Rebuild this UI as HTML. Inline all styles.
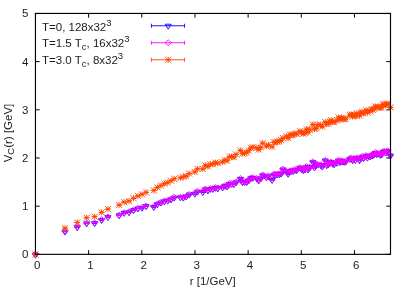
<!DOCTYPE html>
<html><head><meta charset="utf-8"><title>plot</title>
<style>
html,body{margin:0;padding:0;background:#fff;width:411px;height:288px;overflow:hidden}
body{font-family:"Liberation Sans",sans-serif;position:relative}
svg text{font-family:"Liberation Sans",sans-serif}
</style></head><body>
<svg width="411" height="288" viewBox="0 0 411 288" style="position:absolute;left:0;top:0;will-change:transform;opacity:0.999"><rect x="0" y="0" width="411" height="288" fill="#ffffff"/><path d="M35.45 254.35v-4.2M35.45 13.45v4.2M88.62 254.35v-4.2M88.62 13.45v4.2M141.79 254.35v-4.2M141.79 13.45v4.2M194.96 254.35v-4.2M194.96 13.45v4.2M248.13 254.35v-4.2M248.13 13.45v4.2M301.30 254.35v-4.2M301.30 13.45v4.2M354.47 254.35v-4.2M354.47 13.45v4.2M35.45 254.35h4.2M390.5 254.35h-4.2M35.45 206.17h4.2M390.5 206.17h-4.2M35.45 157.99h4.2M390.5 157.99h-4.2M35.45 109.81h4.2M390.5 109.81h-4.2M35.45 61.63h4.2M390.5 61.63h-4.2M35.45 13.45h4.2M390.5 13.45h-4.2" stroke="#000" stroke-width="1.0" fill="none"/><path d="M35.45 254.52V255.02M33.45 254.52h4.00M33.45 255.02h4.00M32.40 253.24L38.50 253.24L35.45 258.19ZM34.95 254.77h1.0M65.03 231.38V231.89M63.03 231.38h4.00M63.03 231.89h4.00M61.98 230.11L68.08 230.11L65.03 235.05ZM64.53 231.63h1.0M77.28 227.00V227.51M75.28 227.00h4.00M75.28 227.51h4.00M74.23 225.73L80.33 225.73L77.28 230.67ZM76.78 227.25h1.0M86.68 223.16V223.68M84.68 223.16h4.00M84.68 223.68h4.00M83.63 221.90L89.73 221.90L86.68 226.84ZM86.18 223.42h1.0M94.61 222.92V223.44M92.61 222.92h4.00M92.61 223.44h4.00M91.56 221.65L97.66 221.65L94.61 226.59ZM94.11 223.18h1.0M101.59 219.82V220.35M99.59 219.82h4.00M99.59 220.35h4.00M98.54 218.56L104.64 218.56L101.59 223.50ZM101.09 220.09h1.0M107.91 216.89V217.43M105.91 216.89h4.00M105.91 217.43h4.00M104.86 215.64L110.96 215.64L107.91 220.58ZM107.41 217.16h1.0M119.11 215.05V215.60M117.11 215.05h4.00M117.11 215.60h4.00M116.06 213.80L122.16 213.80L119.11 218.74ZM118.61 215.32h1.0M124.19 212.64V213.19M122.19 212.64h4.00M122.19 213.19h4.00M121.14 211.39L127.24 211.39L124.19 216.33ZM123.69 212.91h1.0M128.99 212.01V212.57M126.99 212.01h4.00M126.99 212.57h4.00M125.94 210.76L132.04 210.76L128.99 215.70ZM128.49 212.29h1.0M133.56 209.92V210.48M131.56 209.92h4.00M131.56 210.48h4.00M130.51 208.67L136.61 208.67L133.56 213.62ZM133.06 210.20h1.0M137.92 208.23V208.80M135.92 208.23h4.00M135.92 208.80h4.00M134.87 206.99L140.97 206.99L137.92 211.93ZM137.42 208.51h1.0M142.10 207.55V208.13M140.10 207.55h4.00M140.10 208.13h4.00M139.05 206.31L145.15 206.31L142.10 211.25ZM141.60 207.84h1.0M146.13 205.90V206.48M144.13 205.90h4.00M144.13 206.48h4.00M143.08 204.67L149.18 204.67L146.13 209.61ZM145.63 206.19h1.0M153.77 206.71V207.30M151.77 206.71h4.00M151.77 207.30h4.00M150.72 205.48L156.82 205.48L153.77 210.42ZM153.27 207.01h1.0M157.41 203.95V204.56M155.41 203.95h4.00M155.41 204.56h4.00M154.36 202.73L160.46 202.73L157.41 207.67ZM156.91 204.25h1.0M160.95 202.30V202.90M158.95 202.30h4.00M158.95 202.90h4.00M157.90 201.08L164.00 201.08L160.95 206.02ZM160.45 202.60h1.0M164.39 201.08V201.69M162.39 201.08h4.00M162.39 201.69h4.00M161.34 199.86L167.44 199.86L164.39 204.80ZM163.89 201.39h1.0M167.74 200.42V201.04M165.74 200.42h4.00M165.74 201.04h4.00M164.69 199.20L170.79 199.20L167.74 204.15ZM167.24 200.73h1.0M171.00 199.09V199.72M169.00 199.09h4.00M169.00 199.72h4.00M167.95 197.88L174.05 197.88L171.00 202.82ZM170.50 199.41h1.0M174.19 197.42V198.05M172.19 197.42h4.00M172.19 198.05h4.00M171.14 196.21L177.24 196.21L174.19 201.15ZM173.69 197.74h1.0M180.36 197.13V197.77M178.36 197.13h4.00M178.36 197.77h4.00M177.31 195.92L183.41 195.92L180.36 200.86ZM179.86 197.45h1.0M183.35 197.34V197.99M181.35 197.34h4.00M181.35 197.99h4.00M180.30 196.14L186.40 196.14L183.35 201.08ZM182.85 197.67h1.0M186.28 196.25V196.91M184.28 196.25h4.00M184.28 196.91h4.00M183.23 195.05L189.33 195.05L186.28 199.99ZM185.78 196.58h1.0M189.15 194.26V194.93M187.15 194.26h4.00M187.15 194.93h4.00M186.10 193.07L192.20 193.07L189.15 198.01ZM188.65 194.60h1.0M194.74 193.47V194.15M192.74 193.47h4.00M192.74 194.15h4.00M191.69 192.29L197.79 192.29L194.74 197.23ZM194.24 193.81h1.0M197.47 191.41V192.09M195.47 191.41h4.00M195.47 192.09h4.00M194.42 190.22L200.52 190.22L197.47 195.16ZM196.97 191.75h1.0M202.78 191.74V192.44M200.78 191.74h4.00M200.78 192.44h4.00M199.73 190.57L205.83 190.57L202.78 195.51ZM202.28 192.09h1.0M205.37 189.07V189.77M203.37 189.07h4.00M203.37 189.77h4.00M202.32 187.89L208.42 187.89L205.37 192.84ZM204.87 189.42h1.0M207.93 190.16V190.87M205.93 190.16h4.00M205.93 190.87h4.00M204.88 188.99L210.98 188.99L207.93 193.93ZM207.43 190.51h1.0M210.45 188.56V189.27M208.45 188.56h4.00M208.45 189.27h4.00M207.40 187.39L213.50 187.39L210.45 192.33ZM209.95 188.92h1.0M212.93 188.59V189.31M210.93 188.59h4.00M210.93 189.31h4.00M209.88 187.42L215.98 187.42L212.93 192.36ZM212.43 188.95h1.0M215.38 187.49V188.22M213.38 187.49h4.00M213.38 188.22h4.00M212.33 186.33L218.43 186.33L215.38 191.27ZM214.88 187.86h1.0M217.79 188.00V188.73M215.79 188.00h4.00M215.79 188.73h4.00M214.74 186.84L220.84 186.84L217.79 191.78ZM217.29 188.37h1.0M222.53 187.16V187.90M220.53 187.16h4.00M220.53 187.90h4.00M219.48 186.01L225.58 186.01L222.53 190.95ZM222.03 187.53h1.0M224.85 185.52V186.26M222.85 185.52h4.00M222.85 186.26h4.00M221.80 184.36L227.90 184.36L224.85 189.30ZM224.35 185.89h1.0M227.15 186.19V186.95M225.15 186.19h4.00M225.15 186.95h4.00M224.10 185.05L230.20 185.05L227.15 189.99ZM226.65 186.57h1.0M229.42 183.52V184.28M227.42 183.52h4.00M227.42 184.28h4.00M226.37 182.37L232.47 182.37L229.42 187.32ZM228.92 183.90h1.0M231.66 183.51V184.27M229.66 183.51h4.00M229.66 184.27h4.00M228.61 182.36L234.71 182.36L231.66 187.31ZM231.16 183.89h1.0M233.88 183.75V184.52M231.88 183.75h4.00M231.88 184.52h4.00M230.83 182.61L236.93 182.61L233.88 187.55ZM233.38 184.13h1.0M236.07 181.98V182.75M234.07 181.98h4.00M234.07 182.75h4.00M233.02 180.84L239.12 180.84L236.07 185.78ZM235.57 182.36h1.0M240.39 178.54V179.32M238.39 178.54h4.00M238.39 179.32h4.00M237.34 177.40L243.44 177.40L240.39 182.35ZM239.89 178.93h1.0M242.51 181.85V182.65M240.51 181.85h4.00M240.51 182.65h4.00M239.46 180.72L245.56 180.72L242.51 185.66ZM242.01 182.25h1.0M244.61 181.58V182.38M242.61 181.58h4.00M242.61 182.38h4.00M241.56 180.45L247.66 180.45L244.61 185.40ZM244.11 181.98h1.0M246.69 181.60V182.40M244.69 181.60h4.00M244.69 182.40h4.00M243.64 180.48L249.74 180.48L246.69 185.42ZM246.19 182.00h1.0M248.75 180.02V180.83M246.75 180.02h4.00M246.75 180.83h4.00M245.70 178.90L251.80 178.90L248.75 183.84ZM248.25 180.42h1.0M250.80 177.90V178.72M248.80 177.90h4.00M248.80 178.72h4.00M247.75 176.78L253.85 176.78L250.80 181.72ZM250.30 178.31h1.0M252.82 177.43V178.26M250.82 177.43h4.00M250.82 178.26h4.00M249.77 176.32L255.87 176.32L252.82 181.26ZM252.32 177.84h1.0M256.81 178.24V179.07M254.81 178.24h4.00M254.81 179.07h4.00M253.76 177.13L259.86 177.13L256.81 182.07ZM256.31 178.65h1.0M258.77 180.04V180.88M256.77 180.04h4.00M256.77 180.88h4.00M255.72 178.93L261.82 178.93L258.77 183.87ZM258.27 180.46h1.0M260.72 178.15V179.00M258.72 178.15h4.00M258.72 179.00h4.00M257.67 177.05L263.77 177.05L260.72 181.99ZM260.22 178.58h1.0M262.66 174.94V175.80M260.66 174.94h4.00M260.66 175.80h4.00M259.61 173.85L265.71 173.85L262.66 178.79ZM262.16 175.37h1.0M266.48 176.95V177.82M264.48 176.95h4.00M264.48 177.82h4.00M263.43 175.86L269.53 175.86L266.48 180.80ZM265.98 177.38h1.0M268.36 175.84V176.71M266.36 175.84h4.00M266.36 176.71h4.00M265.31 174.75L271.41 174.75L268.36 179.69ZM267.86 176.27h1.0M272.09 179.59V180.47M270.09 179.59h4.00M270.09 180.47h4.00M269.04 178.51L275.14 178.51L272.09 183.45ZM271.59 180.03h1.0M273.93 174.21V175.10M271.93 174.21h4.00M271.93 175.10h4.00M270.88 173.13L276.98 173.13L273.93 178.07ZM273.43 174.66h1.0M275.76 174.27V175.17M273.76 174.27h4.00M273.76 175.17h4.00M272.71 173.20L278.81 173.20L275.76 178.14ZM275.26 174.72h1.0M277.57 173.91V174.81M275.57 173.91h4.00M275.57 174.81h4.00M274.52 172.84L280.62 172.84L277.57 177.78ZM277.07 174.36h1.0M279.37 173.84V174.75M277.37 173.84h4.00M277.37 174.75h4.00M276.32 172.77L282.42 172.77L279.37 177.71ZM278.87 174.29h1.0M281.16 173.28V174.20M279.16 173.28h4.00M279.16 174.20h4.00M278.11 172.22L284.21 172.22L281.16 177.16ZM280.66 173.74h1.0M282.93 169.07V169.99M280.93 169.07h4.00M280.93 169.99h4.00M279.88 168.01L285.98 168.01L282.93 172.95ZM282.43 169.53h1.0M286.44 171.16V172.09M284.44 171.16h4.00M284.44 172.09h4.00M283.39 170.10L289.49 170.10L286.44 175.04ZM285.94 171.63h1.0M288.18 173.36V174.30M286.18 173.36h4.00M286.18 174.30h4.00M285.13 172.30L291.23 172.30L288.18 177.24ZM287.68 173.83h1.0M289.91 170.70V171.65M287.91 170.70h4.00M287.91 171.65h4.00M286.86 169.65L292.96 169.65L289.91 174.59ZM289.41 171.17h1.0M291.62 170.48V171.43M289.62 170.48h4.00M289.62 171.43h4.00M288.57 169.43L294.67 169.43L291.62 174.37ZM291.12 170.95h1.0M293.32 170.49V171.45M291.32 170.49h4.00M291.32 171.45h4.00M290.27 169.44L296.37 169.44L293.32 174.39ZM292.82 170.97h1.0M295.01 169.47V170.43M293.01 169.47h4.00M293.01 170.43h4.00M291.96 168.42L298.06 168.42L295.01 173.36ZM294.51 169.95h1.0M296.69 169.74V170.71M294.69 169.74h4.00M294.69 170.71h4.00M293.64 168.70L299.74 168.70L296.69 173.64ZM296.19 170.23h1.0M300.02 167.24V168.22M298.02 167.24h4.00M298.02 168.22h4.00M296.97 166.21L303.07 166.21L300.02 171.15ZM299.52 167.73h1.0M301.67 168.61V169.59M299.67 168.61h4.00M299.67 169.59h4.00M298.62 167.58L304.72 167.58L301.67 172.52ZM301.17 169.10h1.0M303.31 169.76V170.75M301.31 169.76h4.00M301.31 170.75h4.00M300.26 168.73L306.36 168.73L303.31 173.67ZM302.81 170.25h1.0M304.94 169.07V170.07M302.94 169.07h4.00M302.94 170.07h4.00M301.89 168.04L307.99 168.04L304.94 172.98ZM304.44 169.57h1.0M306.56 166.43V167.43M304.56 166.43h4.00M304.56 167.43h4.00M303.51 165.41L309.61 165.41L306.56 170.35ZM306.06 166.93h1.0M308.16 169.05V170.06M306.16 169.05h4.00M306.16 170.06h4.00M305.11 168.03L311.21 168.03L308.16 172.97ZM307.66 169.56h1.0M309.76 166.76V167.78M307.76 166.76h4.00M307.76 167.78h4.00M306.71 165.74L312.81 165.74L309.76 170.69ZM309.26 167.27h1.0M312.93 161.73V162.75M310.93 161.73h4.00M310.93 162.75h4.00M309.88 160.71L315.98 160.71L312.93 165.66ZM312.43 162.24h1.0M314.51 167.08V168.11M312.51 167.08h4.00M312.51 168.11h4.00M311.46 166.07L317.56 166.07L314.51 171.01ZM314.01 167.59h1.0M316.07 164.21V165.25M314.07 164.21h4.00M314.07 165.25h4.00M313.02 163.20L319.12 163.20L316.07 168.14ZM315.57 164.73h1.0M317.63 164.15V165.20M315.63 164.15h4.00M315.63 165.20h4.00M314.58 163.15L320.68 163.15L317.63 168.09ZM317.13 164.67h1.0M320.71 164.63V165.69M318.71 164.63h4.00M318.71 165.69h4.00M317.66 163.63L323.76 163.63L320.71 168.57ZM320.21 165.16h1.0M322.24 166.02V167.09M320.24 166.02h4.00M320.24 167.09h4.00M319.19 165.03L325.29 165.03L322.24 169.97ZM321.74 166.55h1.0M325.27 159.98V161.05M323.27 159.98h4.00M323.27 161.05h4.00M322.22 158.99L328.32 158.99L325.27 163.93ZM324.77 160.52h1.0M326.78 164.61V165.69M324.78 164.61h4.00M324.78 165.69h4.00M323.73 163.63L329.83 163.63L326.78 168.57ZM326.28 165.15h1.0M328.28 163.95V165.04M326.28 163.95h4.00M326.28 165.04h4.00M325.23 162.97L331.33 162.97L328.28 167.91ZM327.78 164.50h1.0M329.77 162.76V163.86M327.77 162.76h4.00M327.77 163.86h4.00M326.72 161.78L332.82 161.78L329.77 166.73ZM329.27 163.31h1.0M331.25 161.55V162.65M329.25 161.55h4.00M329.25 162.65h4.00M328.20 160.57L334.30 160.57L331.25 165.51ZM330.75 162.10h1.0M332.73 163.30V164.40M330.73 163.30h4.00M330.73 164.40h4.00M329.68 162.33L335.78 162.33L332.73 167.27ZM332.23 163.85h1.0M334.19 163.70V164.81M332.19 163.70h4.00M332.19 164.81h4.00M331.14 162.73L337.24 162.73L334.19 167.67ZM333.69 164.25h1.0M337.11 162.37V163.49M335.11 162.37h4.00M335.11 163.49h4.00M334.06 161.41L340.16 161.41L337.11 166.35ZM336.61 162.93h1.0M338.55 159.97V161.10M336.55 159.97h4.00M336.55 161.10h4.00M335.50 159.01L341.60 159.01L338.55 163.95ZM338.05 160.54h1.0M339.99 161.56V162.69M337.99 161.56h4.00M337.99 162.69h4.00M336.94 160.60L343.04 160.60L339.99 165.54ZM339.49 162.13h1.0M341.43 160.49V161.64M339.43 160.49h4.00M339.43 161.64h4.00M338.38 159.54L344.48 159.54L341.43 164.48ZM340.93 161.06h1.0M342.85 161.02V162.17M340.85 161.02h4.00M340.85 162.17h4.00M339.80 160.07L345.90 160.07L342.85 165.01ZM342.35 161.60h1.0M344.27 161.26V162.42M342.27 161.26h4.00M342.27 162.42h4.00M341.22 160.32L347.32 160.32L344.27 165.26ZM343.77 161.84h1.0M345.69 161.11V162.27M343.69 161.11h4.00M343.69 162.27h4.00M342.64 160.17L348.74 160.17L345.69 165.11ZM345.19 161.69h1.0M349.89 158.34V159.52M347.89 158.34h4.00M347.89 159.52h4.00M346.84 157.41L352.94 157.41L349.89 162.35ZM349.39 158.93h1.0M351.28 157.93V159.11M349.28 157.93h4.00M349.28 159.11h4.00M348.23 156.99L354.33 156.99L351.28 161.93ZM350.78 158.52h1.0M352.66 159.66V160.85M350.66 159.66h4.00M350.66 160.85h4.00M349.61 158.73L355.71 158.73L352.66 163.67ZM352.16 160.26h1.0M354.04 158.29V159.49M352.04 158.29h4.00M352.04 159.49h4.00M350.99 157.37L357.09 157.37L354.04 162.31ZM353.54 158.89h1.0M355.41 159.36V160.56M353.41 159.36h4.00M353.41 160.56h4.00M352.36 158.43L358.46 158.43L355.41 163.38ZM354.91 159.96h1.0M356.77 157.54V158.74M354.77 157.54h4.00M354.77 158.74h4.00M353.72 156.62L359.82 156.62L356.77 161.56ZM356.27 158.14h1.0M359.48 159.62V160.84M357.48 159.62h4.00M357.48 160.84h4.00M356.43 158.71L362.53 158.71L359.48 163.65ZM358.98 160.23h1.0M360.83 157.51V158.73M358.83 157.51h4.00M358.83 158.73h4.00M357.78 156.59L363.88 156.59L360.83 161.53ZM360.33 158.12h1.0M362.17 156.22V157.46M360.17 156.22h4.00M360.17 157.46h4.00M359.12 155.32L365.22 155.32L362.17 160.26ZM361.67 156.84h1.0M363.51 157.57V158.81M361.51 157.57h4.00M361.51 158.81h4.00M360.46 156.66L366.56 156.66L363.51 161.60ZM363.01 158.19h1.0M366.16 155.13V156.38M364.16 155.13h4.00M364.16 156.38h4.00M363.11 154.23L369.21 154.23L366.16 159.17ZM365.66 155.75h1.0M367.48 157.03V158.28M365.48 157.03h4.00M365.48 158.28h4.00M364.43 156.13L370.53 156.13L367.48 161.07ZM366.98 157.65h1.0M370.11 155.83V157.10M368.11 155.83h4.00M368.11 157.10h4.00M367.06 154.94L373.16 154.94L370.11 159.88ZM369.61 156.47h1.0M371.41 154.96V156.24M369.41 154.96h4.00M369.41 156.24h4.00M368.36 154.08L374.46 154.08L371.41 159.02ZM370.91 155.60h1.0M372.71 154.85V156.13M370.71 154.85h4.00M370.71 156.13h4.00M369.66 153.97L375.76 153.97L372.71 158.91ZM372.21 155.49h1.0M374.01 153.79V155.07M372.01 153.79h4.00M372.01 155.07h4.00M370.96 152.91L377.06 152.91L374.01 157.85ZM373.51 154.43h1.0M375.30 152.34V153.64M373.30 152.34h4.00M373.30 153.64h4.00M372.25 151.46L378.35 151.46L375.30 156.41ZM374.80 152.99h1.0M376.58 153.46V154.76M374.58 153.46h4.00M374.58 154.76h4.00M373.53 152.59L379.63 152.59L376.58 157.53ZM376.08 154.11h1.0M377.86 153.13V154.44M375.86 153.13h4.00M375.86 154.44h4.00M374.81 152.26L380.91 152.26L377.86 157.20ZM377.36 153.78h1.0M380.41 154.27V155.59M378.41 154.27h4.00M378.41 155.59h4.00M377.36 153.40L383.46 153.40L380.41 158.35ZM379.91 154.93h1.0M381.68 153.92V155.24M379.68 153.92h4.00M379.68 155.24h4.00M378.63 153.06L384.73 153.06L381.68 158.00ZM381.18 154.58h1.0M382.94 151.43V152.76M380.94 151.43h4.00M380.94 152.76h4.00M379.89 150.57L385.99 150.57L382.94 155.51ZM382.44 152.09h1.0M384.19 150.88V152.22M382.19 150.88h4.00M382.19 152.22h4.00M381.14 150.03L387.24 150.03L384.19 154.97ZM383.69 151.55h1.0M385.45 152.03V153.37M383.45 152.03h4.00M383.45 153.37h4.00M382.40 151.18L388.50 151.18L385.45 156.12ZM384.95 152.70h1.0M386.69 151.16V152.51M384.69 151.16h4.00M384.69 152.51h4.00M383.64 150.31L389.74 150.31L386.69 155.25ZM386.19 151.83h1.0M387.94 150.51V151.86M385.94 150.51h4.00M385.94 151.86h4.00M384.89 149.66L390.99 149.66L387.94 154.60ZM387.44 151.18h1.0M390.41 154.99V156.35M388.41 154.99h4.00M388.41 156.35h4.00M387.36 154.14L393.46 154.14L390.41 159.09ZM389.91 155.67h1.0" stroke="#0000ff" stroke-width="0.9" fill="none"/><path d="M35.45 254.05V254.55M33.45 254.05h4.00M33.45 254.55h4.00M35.45 251.25L38.50 254.30L35.45 257.35L32.40 254.30ZM34.95 254.30h1.0M65.03 231.05V231.55M63.03 231.05h4.00M63.03 231.55h4.00M65.03 228.25L68.08 231.30L65.03 234.35L61.98 231.30ZM64.53 231.30h1.0M77.28 226.64V227.16M75.28 226.64h4.00M75.28 227.16h4.00M77.28 223.85L80.33 226.90L77.28 229.95L74.23 226.90ZM76.78 226.90h1.0M86.68 222.94V223.46M84.68 222.94h4.00M84.68 223.46h4.00M86.68 220.15L89.73 223.20L86.68 226.25L83.63 223.20ZM86.18 223.20h1.0M94.61 222.54V223.06M92.61 222.54h4.00M92.61 223.06h4.00M94.61 219.75L97.66 222.80L94.61 225.85L91.56 222.80ZM94.11 222.80h1.0M101.59 219.34V219.86M99.59 219.34h4.00M99.59 219.86h4.00M101.59 216.55L104.64 219.60L101.59 222.65L98.54 219.60ZM101.09 219.60h1.0M107.91 216.73V217.27M105.91 216.73h4.00M105.91 217.27h4.00M107.91 213.95L110.96 217.00L107.91 220.05L104.86 217.00ZM107.41 217.00h1.0M119.11 214.93V215.47M117.11 214.93h4.00M117.11 215.47h4.00M119.11 212.15L122.16 215.20L119.11 218.25L116.06 215.20ZM118.61 215.20h1.0M124.19 212.52V213.08M122.19 212.52h4.00M122.19 213.08h4.00M124.19 209.75L127.24 212.80L124.19 215.85L121.14 212.80ZM123.69 212.80h1.0M128.99 211.57V212.13M126.99 211.57h4.00M126.99 212.13h4.00M128.99 208.80L132.04 211.85L128.99 214.90L125.94 211.85ZM128.49 211.85h1.0M133.56 209.62V210.18M131.56 209.62h4.00M131.56 210.18h4.00M133.56 206.85L136.61 209.90L133.56 212.95L130.51 209.90ZM133.06 209.90h1.0M137.92 208.01V208.59M135.92 208.01h4.00M135.92 208.59h4.00M137.92 205.25L140.97 208.30L137.92 211.35L134.87 208.30ZM137.42 208.30h1.0M142.10 207.11V207.69M140.10 207.11h4.00M140.10 207.69h4.00M142.10 204.35L145.15 207.40L142.10 210.45L139.05 207.40ZM141.60 207.40h1.0M146.13 205.71V206.29M144.13 205.71h4.00M144.13 206.29h4.00M146.13 202.95L149.18 206.00L146.13 209.05L143.08 206.00ZM145.63 206.00h1.0M153.77 206.30V206.90M151.77 206.30h4.00M151.77 206.90h4.00M153.77 203.55L156.82 206.60L153.77 209.65L150.72 206.60ZM153.27 206.60h1.0M157.41 203.70V204.30M155.41 203.70h4.00M155.41 204.30h4.00M157.41 200.95L160.46 204.00L157.41 207.05L154.36 204.00ZM156.91 204.00h1.0M160.95 202.20V202.80M158.95 202.20h4.00M158.95 202.80h4.00M160.95 199.45L164.00 202.50L160.95 205.55L157.90 202.50ZM160.45 202.50h1.0M164.39 200.79V201.41M162.39 200.79h4.00M162.39 201.41h4.00M164.39 198.05L167.44 201.10L164.39 204.15L161.34 201.10ZM163.89 201.10h1.0M167.74 200.29V200.91M165.74 200.29h4.00M165.74 200.91h4.00M167.74 197.55L170.79 200.60L167.74 203.65L164.69 200.60ZM167.24 200.60h1.0M171.00 198.89V199.51M169.00 198.89h4.00M169.00 199.51h4.00M171.00 196.15L174.05 199.20L171.00 202.25L167.95 199.20ZM170.50 199.20h1.0M174.19 196.93V197.57M172.19 196.93h4.00M172.19 197.57h4.00M174.19 194.20L177.24 197.25L174.19 200.30L171.14 197.25ZM173.69 197.25h1.0M180.36 196.93V197.57M178.36 196.93h4.00M178.36 197.57h4.00M180.36 194.20L183.41 197.25L180.36 200.30L177.31 197.25ZM179.86 197.25h1.0M183.35 196.93V197.57M181.35 196.93h4.00M181.35 197.57h4.00M183.35 194.20L186.40 197.25L183.35 200.30L180.30 197.25ZM182.85 197.25h1.0M186.28 195.97V196.63M184.28 195.97h4.00M184.28 196.63h4.00M186.28 193.25L189.33 196.30L186.28 199.35L183.23 196.30ZM185.78 196.30h1.0M189.15 194.11V194.77M187.15 194.11h4.00M187.15 194.77h4.00M189.15 191.39L192.20 194.44L189.15 197.49L186.10 194.44ZM188.65 194.44h1.0M194.74 193.21V193.88M192.74 193.21h4.00M192.74 193.88h4.00M194.74 190.49L197.79 193.54L194.74 196.59L191.69 193.54ZM194.24 193.54h1.0M197.47 190.92V191.60M195.47 190.92h4.00M195.47 191.60h4.00M197.47 188.21L200.52 191.26L197.47 194.31L194.42 191.26ZM196.97 191.26h1.0M202.78 191.29V191.98M200.78 191.29h4.00M200.78 191.98h4.00M202.78 188.59L205.83 191.64L202.78 194.69L199.73 191.64ZM202.28 191.64h1.0M205.37 188.63V189.33M203.37 188.63h4.00M203.37 189.33h4.00M205.37 185.93L208.42 188.98L205.37 192.03L202.32 188.98ZM204.87 188.98h1.0M207.93 189.67V190.37M205.93 189.67h4.00M205.93 190.37h4.00M207.93 186.97L210.98 190.02L207.93 193.07L204.88 190.02ZM207.43 190.02h1.0M210.45 188.15V188.86M208.45 188.15h4.00M208.45 188.86h4.00M210.45 185.46L213.50 188.51L210.45 191.56L207.40 188.51ZM209.95 188.51h1.0M212.93 188.46V189.18M210.93 188.46h4.00M210.93 189.18h4.00M212.93 185.77L215.98 188.82L212.93 191.87L209.88 188.82ZM212.43 188.82h1.0M215.38 187.30V188.02M213.38 187.30h4.00M213.38 188.02h4.00M215.38 184.61L218.43 187.66L215.38 190.71L212.33 187.66ZM214.88 187.66h1.0M217.79 187.72V188.45M215.79 187.72h4.00M215.79 188.45h4.00M217.79 185.04L220.84 188.09L217.79 191.14L214.74 188.09ZM217.29 188.09h1.0M222.53 186.83V187.57M220.53 186.83h4.00M220.53 187.57h4.00M222.53 184.15L225.58 187.20L222.53 190.25L219.48 187.20ZM222.03 187.20h1.0M224.85 185.35V186.10M222.85 185.35h4.00M222.85 186.10h4.00M224.85 182.68L227.90 185.73L224.85 188.78L221.80 185.73ZM224.35 185.73h1.0M227.15 185.99V186.75M225.15 185.99h4.00M225.15 186.75h4.00M227.15 183.32L230.20 186.37L227.15 189.42L224.10 186.37ZM226.65 186.37h1.0M229.42 183.04V183.80M227.42 183.04h4.00M227.42 183.80h4.00M229.42 180.37L232.47 183.42L229.42 186.47L226.37 183.42ZM228.92 183.42h1.0M231.66 183.06V183.82M229.66 183.06h4.00M229.66 183.82h4.00M231.66 180.39L234.71 183.44L231.66 186.49L228.61 183.44ZM231.16 183.44h1.0M233.88 183.61V184.38M231.88 183.61h4.00M231.88 184.38h4.00M233.88 180.94L236.93 183.99L233.88 187.04L230.83 183.99ZM233.38 183.99h1.0M236.07 181.78V182.56M234.07 181.78h4.00M234.07 182.56h4.00M236.07 179.12L239.12 182.17L236.07 185.22L233.02 182.17ZM235.57 182.17h1.0M240.39 178.11V178.89M238.39 178.11h4.00M238.39 178.89h4.00M240.39 175.45L243.44 178.50L240.39 181.55L237.34 178.50ZM239.89 178.50h1.0M242.51 181.68V182.48M240.51 181.68h4.00M240.51 182.48h4.00M242.51 179.03L245.56 182.08L242.51 185.13L239.46 182.08ZM242.01 182.08h1.0M244.61 181.39V182.19M242.61 181.39h4.00M242.61 182.19h4.00M244.61 178.74L247.66 181.79L244.61 184.84L241.56 181.79ZM244.11 181.79h1.0M246.69 181.25V182.06M244.69 181.25h4.00M244.69 182.06h4.00M246.69 178.61L249.74 181.66L246.69 184.71L243.64 181.66ZM246.19 181.66h1.0M248.75 179.83V180.65M246.75 179.83h4.00M246.75 180.65h4.00M248.75 177.19L251.80 180.24L248.75 183.29L245.70 180.24ZM248.25 180.24h1.0M250.80 177.62V178.44M248.80 177.62h4.00M248.80 178.44h4.00M250.80 174.98L253.85 178.03L250.80 181.08L247.75 178.03ZM250.30 178.03h1.0M252.82 177.18V178.01M250.82 177.18h4.00M250.82 178.01h4.00M252.82 174.55L255.87 177.60L252.82 180.65L249.77 177.60ZM252.32 177.60h1.0M256.81 177.99V178.83M254.81 177.99h4.00M254.81 178.83h4.00M256.81 175.36L259.86 178.41L256.81 181.46L253.76 178.41ZM256.31 178.41h1.0M258.77 179.67V180.52M256.77 179.67h4.00M256.77 180.52h4.00M258.77 177.04L261.82 180.09L258.77 183.14L255.72 180.09ZM258.27 180.09h1.0M260.72 178.00V178.85M258.72 178.00h4.00M258.72 178.85h4.00M260.72 175.37L263.77 178.42L260.72 181.47L257.67 178.42ZM260.22 178.42h1.0M262.66 174.48V175.33M260.66 174.48h4.00M260.66 175.33h4.00M262.66 171.86L265.71 174.91L262.66 177.96L259.61 174.91ZM262.16 174.91h1.0M266.48 176.84V177.71M264.48 176.84h4.00M264.48 177.71h4.00M266.48 174.22L269.53 177.27L266.48 180.32L263.43 177.27ZM265.98 177.27h1.0M268.36 175.45V176.32M266.36 175.45h4.00M266.36 176.32h4.00M268.36 172.83L271.41 175.88L268.36 178.93L265.31 175.88ZM267.86 175.88h1.0M272.09 179.46V180.34M270.09 179.46h4.00M270.09 180.34h4.00M272.09 176.85L275.14 179.90L272.09 182.95L269.04 179.90ZM271.59 179.90h1.0M273.93 173.75V174.64M271.93 173.75h4.00M271.93 174.64h4.00M273.93 171.15L276.98 174.20L273.93 177.25L270.88 174.20ZM273.43 174.20h1.0M275.76 173.86V174.75M273.76 173.86h4.00M273.76 174.75h4.00M275.76 171.25L278.81 174.30L275.76 177.35L272.71 174.30ZM275.26 174.30h1.0M277.57 173.54V174.44M275.57 173.54h4.00M275.57 174.44h4.00M277.57 170.94L280.62 173.99L277.57 177.04L274.52 173.99ZM277.07 173.99h1.0M279.37 173.57V174.48M277.37 173.57h4.00M277.37 174.48h4.00M279.37 170.98L282.42 174.03L279.37 177.08L276.32 174.03ZM278.87 174.03h1.0M281.16 172.95V173.87M279.16 172.95h4.00M279.16 173.87h4.00M281.16 170.36L284.21 173.41L281.16 176.46L278.11 173.41ZM280.66 173.41h1.0M282.93 168.74V169.66M280.93 168.74h4.00M280.93 169.66h4.00M282.93 166.15L285.98 169.20L282.93 172.25L279.88 169.20ZM282.43 169.20h1.0M286.44 170.81V171.74M284.44 170.81h4.00M284.44 171.74h4.00M286.44 168.22L289.49 171.27L286.44 174.32L283.39 171.27ZM285.94 171.27h1.0M288.18 172.97V173.91M286.18 172.97h4.00M286.18 173.91h4.00M288.18 170.39L291.23 173.44L288.18 176.49L285.13 173.44ZM287.68 173.44h1.0M289.91 170.37V171.31M287.91 170.37h4.00M287.91 171.31h4.00M289.91 167.79L292.96 170.84L289.91 173.89L286.86 170.84ZM289.41 170.84h1.0M291.62 170.34V171.29M289.62 170.34h4.00M289.62 171.29h4.00M291.62 167.77L294.67 170.82L291.62 173.87L288.57 170.82ZM291.12 170.82h1.0M293.32 170.15V171.11M291.32 170.15h4.00M291.32 171.11h4.00M293.32 167.58L296.37 170.63L293.32 173.68L290.27 170.63ZM292.82 170.63h1.0M295.01 169.09V170.05M293.01 169.09h4.00M293.01 170.05h4.00M295.01 166.52L298.06 169.57L295.01 172.62L291.96 169.57ZM294.51 169.57h1.0M296.69 169.28V170.24M294.69 169.28h4.00M294.69 170.24h4.00M296.69 166.71L299.74 169.76L296.69 172.81L293.64 169.76ZM296.19 169.76h1.0M300.02 167.02V168.00M298.02 167.02h4.00M298.02 168.00h4.00M300.02 164.46L303.07 167.51L300.02 170.56L296.97 167.51ZM299.52 167.51h1.0M301.67 168.44V169.43M299.67 168.44h4.00M299.67 169.43h4.00M301.67 165.88L304.72 168.93L301.67 171.98L298.62 168.93ZM301.17 168.93h1.0M303.31 169.48V170.47M301.31 169.48h4.00M301.31 170.47h4.00M303.31 166.93L306.36 169.98L303.31 173.03L300.26 169.98ZM302.81 169.98h1.0M304.94 168.70V169.70M302.94 168.70h4.00M302.94 169.70h4.00M304.94 166.15L307.99 169.20L304.94 172.25L301.89 169.20ZM304.44 169.20h1.0M306.56 166.01V167.01M304.56 166.01h4.00M304.56 167.01h4.00M306.56 163.46L309.61 166.51L306.56 169.56L303.51 166.51ZM306.06 166.51h1.0M308.16 168.80V169.81M306.16 168.80h4.00M306.16 169.81h4.00M308.16 166.25L311.21 169.30L308.16 172.35L305.11 169.30ZM307.66 169.30h1.0M309.76 166.61V167.62M307.76 166.61h4.00M307.76 167.62h4.00M309.76 164.07L312.81 167.12L309.76 170.17L306.71 167.12ZM309.26 167.12h1.0M312.93 161.29V162.31M310.93 161.29h4.00M310.93 162.31h4.00M312.93 158.75L315.98 161.80L312.93 164.85L309.88 161.80ZM312.43 161.80h1.0M314.51 166.87V167.90M312.51 166.87h4.00M312.51 167.90h4.00M314.51 164.33L317.56 167.38L314.51 170.43L311.46 167.38ZM314.01 167.38h1.0M316.07 164.00V165.04M314.07 164.00h4.00M314.07 165.04h4.00M316.07 161.47L319.12 164.52L316.07 167.57L313.02 164.52ZM315.57 164.52h1.0M317.63 163.80V164.85M315.63 163.80h4.00M315.63 164.85h4.00M317.63 161.27L320.68 164.32L317.63 167.37L314.58 164.32ZM317.13 164.32h1.0M320.71 164.19V165.25M318.71 164.19h4.00M318.71 165.25h4.00M320.71 161.67L323.76 164.72L320.71 167.77L317.66 164.72ZM320.21 164.72h1.0M322.24 165.89V166.96M320.24 165.89h4.00M320.24 166.96h4.00M322.24 163.37L325.29 166.42L322.24 169.47L319.19 166.42ZM321.74 166.42h1.0M325.27 159.86V160.94M323.27 159.86h4.00M323.27 160.94h4.00M325.27 157.35L328.32 160.40L325.27 163.45L322.22 160.40ZM324.77 160.40h1.0M326.78 164.39V165.47M324.78 164.39h4.00M324.78 165.47h4.00M326.78 161.88L329.83 164.93L326.78 167.98L323.73 164.93ZM326.28 164.93h1.0M328.28 163.80V164.89M326.28 163.80h4.00M326.28 164.89h4.00M328.28 161.29L331.33 164.34L328.28 167.39L325.23 164.34ZM327.78 164.34h1.0M329.77 162.33V163.42M327.77 162.33h4.00M327.77 163.42h4.00M329.77 159.83L332.82 162.88L329.77 165.93L326.72 162.88ZM329.27 162.88h1.0M331.25 161.43V162.53M329.25 161.43h4.00M329.25 162.53h4.00M331.25 158.93L334.30 161.98L331.25 165.03L328.20 161.98ZM330.75 161.98h1.0M332.73 162.95V164.05M330.73 162.95h4.00M330.73 164.05h4.00M332.73 160.45L335.78 163.50L332.73 166.55L329.68 163.50ZM332.23 163.50h1.0M334.19 163.21V164.33M332.19 163.21h4.00M332.19 164.33h4.00M334.19 160.72L337.24 163.77L334.19 166.82L331.14 163.77ZM333.69 163.77h1.0M337.11 162.08V163.20M335.11 162.08h4.00M335.11 163.20h4.00M337.11 159.59L340.16 162.64L337.11 165.69L334.06 162.64ZM336.61 162.64h1.0M338.55 159.68V160.81M336.55 159.68h4.00M336.55 160.81h4.00M338.55 157.20L341.60 160.25L338.55 163.30L335.50 160.25ZM338.05 160.25h1.0M339.99 161.35V162.49M337.99 161.35h4.00M337.99 162.49h4.00M339.99 158.87L343.04 161.92L339.99 164.97L336.94 161.92ZM339.49 161.92h1.0M341.43 160.19V161.33M339.43 160.19h4.00M339.43 161.33h4.00M341.43 157.71L344.48 160.76L341.43 163.81L338.38 160.76ZM340.93 160.76h1.0M342.85 160.77V161.91M340.85 160.77h4.00M340.85 161.91h4.00M342.85 158.29L345.90 161.34L342.85 164.39L339.80 161.34ZM342.35 161.34h1.0M344.27 161.13V162.28M342.27 161.13h4.00M342.27 162.28h4.00M344.27 158.66L347.32 161.71L344.27 164.76L341.22 161.71ZM343.77 161.71h1.0M345.69 160.96V162.12M343.69 160.96h4.00M343.69 162.12h4.00M345.69 158.49L348.74 161.54L345.69 164.59L342.64 161.54ZM345.19 161.54h1.0M349.89 157.88V159.06M347.89 157.88h4.00M347.89 159.06h4.00M349.89 155.42L352.94 158.47L349.89 161.52L346.84 158.47ZM349.39 158.47h1.0M351.28 157.47V158.66M349.28 157.47h4.00M349.28 158.66h4.00M351.28 155.02L354.33 158.07L351.28 161.12L348.23 158.07ZM350.78 158.07h1.0M352.66 159.38V160.57M350.66 159.38h4.00M350.66 160.57h4.00M352.66 156.92L355.71 159.97L352.66 163.02L349.61 159.97ZM352.16 159.97h1.0M354.04 157.91V159.10M352.04 157.91h4.00M352.04 159.10h4.00M354.04 155.45L357.09 158.50L354.04 161.55L350.99 158.50ZM353.54 158.50h1.0M355.41 158.97V160.17M353.41 158.97h4.00M353.41 160.17h4.00M355.41 156.52L358.46 159.57L355.41 162.62L352.36 159.57ZM354.91 159.57h1.0M356.77 157.04V158.25M354.77 157.04h4.00M354.77 158.25h4.00M356.77 154.60L359.82 157.65L356.77 160.70L353.72 157.65ZM356.27 157.65h1.0M359.48 159.21V160.43M357.48 159.21h4.00M357.48 160.43h4.00M359.48 156.77L362.53 159.82L359.48 162.87L356.43 159.82ZM358.98 159.82h1.0M360.83 157.06V158.29M358.83 157.06h4.00M358.83 158.29h4.00M360.83 154.63L363.88 157.68L360.83 160.73L357.78 157.68ZM360.33 157.68h1.0M362.17 155.95V157.18M360.17 155.95h4.00M360.17 157.18h4.00M362.17 153.51L365.22 156.56L362.17 159.61L359.12 156.56ZM361.67 156.56h1.0M363.51 157.27V158.51M361.51 157.27h4.00M361.51 158.51h4.00M363.51 154.84L366.56 157.89L363.51 160.94L360.46 157.89ZM363.01 157.89h1.0M366.16 155.00V156.25M364.16 155.00h4.00M364.16 156.25h4.00M366.16 152.57L369.21 155.62L366.16 158.67L363.11 155.62ZM365.66 155.62h1.0M367.48 156.79V158.05M365.48 156.79h4.00M365.48 158.05h4.00M367.48 154.37L370.53 157.42L367.48 160.47L364.43 157.42ZM366.98 157.42h1.0M370.11 155.67V156.94M368.11 155.67h4.00M368.11 156.94h4.00M370.11 153.26L373.16 156.31L370.11 159.36L367.06 156.31ZM369.61 156.31h1.0M371.41 154.53V155.80M369.41 154.53h4.00M369.41 155.80h4.00M371.41 152.12L374.46 155.17L371.41 158.22L368.36 155.17ZM370.91 155.17h1.0M372.71 154.56V155.84M370.71 154.56h4.00M370.71 155.84h4.00M372.71 152.15L375.76 155.20L372.71 158.25L369.66 155.20ZM372.21 155.20h1.0M374.01 153.60V154.89M372.01 153.60h4.00M372.01 154.89h4.00M374.01 151.19L377.06 154.24L374.01 157.29L370.96 154.24ZM373.51 154.24h1.0M375.30 151.95V153.24M373.30 151.95h4.00M373.30 153.24h4.00M375.30 149.55L378.35 152.60L375.30 155.65L372.25 152.60ZM374.80 152.60h1.0M376.58 153.03V154.32M374.58 153.03h4.00M374.58 154.32h4.00M376.58 150.63L379.63 153.68L376.58 156.73L373.53 153.68ZM376.08 153.68h1.0M377.86 152.88V154.18M375.86 152.88h4.00M375.86 154.18h4.00M377.86 150.48L380.91 153.53L377.86 156.58L374.81 153.53ZM377.36 153.53h1.0M380.41 154.09V155.40M378.41 154.09h4.00M378.41 155.40h4.00M380.41 151.70L383.46 154.75L380.41 157.80L377.36 154.75ZM379.91 154.75h1.0M381.68 153.61V154.93M379.68 153.61h4.00M379.68 154.93h4.00M381.68 151.22L384.73 154.27L381.68 157.32L378.63 154.27ZM381.18 154.27h1.0M382.94 151.11V152.44M380.94 151.11h4.00M380.94 152.44h4.00M382.94 148.73L385.99 151.78L382.94 154.83L379.89 151.78ZM382.44 151.78h1.0M384.19 150.77V152.11M382.19 150.77h4.00M382.19 152.11h4.00M384.19 148.39L387.24 151.44L384.19 154.49L381.14 151.44ZM383.69 151.44h1.0M385.45 151.77V153.11M383.45 151.77h4.00M383.45 153.11h4.00M385.45 149.39L388.50 152.44L385.45 155.49L382.40 152.44ZM384.95 152.44h1.0M386.69 150.86V152.21M384.69 150.86h4.00M384.69 152.21h4.00M386.69 148.49L389.74 151.54L386.69 154.59L383.64 151.54ZM386.19 151.54h1.0M387.94 150.19V151.54M385.94 150.19h4.00M385.94 151.54h4.00M387.94 147.82L390.99 150.87L387.94 153.92L384.89 150.87ZM387.44 150.87h1.0M390.41 154.52V155.88M388.41 154.52h4.00M388.41 155.88h4.00M390.41 152.15L393.46 155.20L390.41 158.25L387.36 155.20ZM389.91 155.20h1.0" stroke="#ff00ff" stroke-width="0.9" fill="none"/><path d="M35.45 254.05V254.55M33.45 254.05h4.00M33.45 254.55h4.00M32.40 254.30h6.10M35.45 251.25v6.10M32.40 251.25l6.10 6.10M32.40 257.35l6.10 -6.10M65.03 227.85V228.35M63.03 227.85h4.00M63.03 228.35h4.00M61.98 228.10h6.10M65.03 225.05v6.10M61.98 225.05l6.10 6.10M61.98 231.15l6.10 -6.10M77.28 222.24V222.76M75.28 222.24h4.00M75.28 222.76h4.00M74.23 222.50h6.10M77.28 219.45v6.10M74.23 219.45l6.10 6.10M74.23 225.55l6.10 -6.10M86.68 217.54V218.06M84.68 217.54h4.00M84.68 218.06h4.00M83.63 217.80h6.10M86.68 214.75v6.10M83.63 214.75l6.10 6.10M83.63 220.85l6.10 -6.10M94.61 216.44V216.96M92.61 216.44h4.00M92.61 216.96h4.00M91.56 216.70h6.10M94.61 213.65v6.10M91.56 213.65l6.10 6.10M91.56 219.75l6.10 -6.10M101.59 212.04V212.56M99.59 212.04h4.00M99.59 212.56h4.00M98.54 212.30h6.10M101.59 209.25v6.10M98.54 209.25l6.10 6.10M98.54 215.35l6.10 -6.10M107.91 208.83V209.37M105.91 208.83h4.00M105.91 209.37h4.00M104.86 209.10h6.10M107.91 206.05v6.10M104.86 206.05l6.10 6.10M104.86 212.15l6.10 -6.10M119.11 204.73V205.27M117.11 204.73h4.00M117.11 205.27h4.00M116.06 205.00h6.10M119.11 201.95v6.10M116.06 201.95l6.10 6.10M116.06 208.05l6.10 -6.10M124.19 201.82V202.38M122.19 201.82h4.00M122.19 202.38h4.00M121.14 202.10h6.10M124.19 199.05v6.10M121.14 199.05l6.10 6.10M121.14 205.15l6.10 -6.10M128.99 200.82V201.38M126.99 200.82h4.00M126.99 201.38h4.00M125.94 201.10h6.10M128.99 198.05v6.10M125.94 198.05l6.10 6.10M125.94 204.15l6.10 -6.10M133.56 197.92V198.48M131.56 197.92h4.00M131.56 198.48h4.00M130.51 198.20h6.10M133.56 195.15v6.10M130.51 195.15l6.10 6.10M130.51 201.25l6.10 -6.10M137.92 195.61V196.19M135.92 195.61h4.00M135.92 196.19h4.00M134.87 195.90h6.10M137.92 192.85v6.10M134.87 192.85l6.10 6.10M134.87 198.95l6.10 -6.10M142.10 194.01V194.59M140.10 194.01h4.00M140.10 194.59h4.00M139.05 194.30h6.10M142.10 191.25v6.10M139.05 191.25l6.10 6.10M139.05 197.35l6.10 -6.10M146.13 192.11V192.69M144.13 192.11h4.00M144.13 192.69h4.00M143.08 192.40h6.10M146.13 189.35v6.10M143.08 189.35l6.10 6.10M143.08 195.45l6.10 -6.10M153.77 190.10V190.70M151.77 190.10h4.00M151.77 190.70h4.00M150.72 190.40h6.10M153.77 187.35v6.10M150.72 187.35l6.10 6.10M150.72 193.45l6.10 -6.10M157.41 187.20V187.80M155.41 187.20h4.00M155.41 187.80h4.00M154.36 187.50h6.10M157.41 184.45v6.10M154.36 184.45l6.10 6.10M154.36 190.55l6.10 -6.10M160.95 185.30V185.90M158.95 185.30h4.00M158.95 185.90h4.00M157.90 185.60h6.10M160.95 182.55v6.10M157.90 182.55l6.10 6.10M157.90 188.65l6.10 -6.10M164.39 183.29V183.91M162.39 183.29h4.00M162.39 183.91h4.00M161.34 183.60h6.10M164.39 180.55v6.10M161.34 180.55l6.10 6.10M161.34 186.65l6.10 -6.10M167.74 182.34V182.96M165.74 182.34h4.00M165.74 182.96h4.00M164.69 182.65h6.10M167.74 179.60v6.10M164.69 179.60l6.10 6.10M164.69 185.70l6.10 -6.10M171.00 180.39V181.01M169.00 180.39h4.00M169.00 181.01h4.00M167.95 180.70h6.10M171.00 177.65v6.10M167.95 177.65l6.10 6.10M167.95 183.75l6.10 -6.10M174.19 178.48V179.12M172.19 178.48h4.00M172.19 179.12h4.00M171.14 178.80h6.10M174.19 175.75v6.10M171.14 175.75l6.10 6.10M171.14 181.85l6.10 -6.10M180.36 177.48V178.12M178.36 177.48h4.00M178.36 178.12h4.00M177.31 177.80h6.10M180.36 174.75v6.10M177.31 174.75l6.10 6.10M177.31 180.85l6.10 -6.10M183.35 176.48V177.12M181.35 176.48h4.00M181.35 177.12h4.00M180.30 176.80h6.10M183.35 173.75v6.10M180.30 173.75l6.10 6.10M180.30 179.85l6.10 -6.10M186.28 175.87V176.53M184.28 175.87h4.00M184.28 176.53h4.00M183.23 176.20h6.10M186.28 173.15v6.10M183.23 173.15l6.10 6.10M183.23 179.25l6.10 -6.10M189.15 173.17V173.84M187.15 173.17h4.00M187.15 173.84h4.00M186.10 173.51h6.10M189.15 170.46v6.10M186.10 170.46l6.10 6.10M186.10 176.56l6.10 -6.10M194.74 171.66V172.34M192.74 171.66h4.00M192.74 172.34h4.00M191.69 172.00h6.10M194.74 168.95v6.10M191.69 168.95l6.10 6.10M191.69 175.05l6.10 -6.10M197.47 168.60V169.28M195.47 168.60h4.00M195.47 169.28h4.00M194.42 168.94h6.10M197.47 165.89v6.10M194.42 165.89l6.10 6.10M194.42 171.99l6.10 -6.10M202.78 168.61V169.30M200.78 168.61h4.00M200.78 169.30h4.00M199.73 168.95h6.10M202.78 165.90v6.10M199.73 165.90l6.10 6.10M199.73 172.00l6.10 -6.10M205.37 165.07V165.77M203.37 165.07h4.00M203.37 165.77h4.00M202.32 165.42h6.10M205.37 162.37v6.10M202.32 162.37l6.10 6.10M202.32 168.47l6.10 -6.10M207.93 166.09V166.79M205.93 166.09h4.00M205.93 166.79h4.00M204.88 166.44h6.10M207.93 163.39v6.10M204.88 163.39l6.10 6.10M204.88 169.49l6.10 -6.10M210.45 163.87V164.58M208.45 163.87h4.00M208.45 164.58h4.00M207.40 164.22h6.10M210.45 161.17v6.10M207.40 161.17l6.10 6.10M207.40 167.27l6.10 -6.10M212.93 163.91V164.62M210.93 163.91h4.00M210.93 164.62h4.00M209.88 164.26h6.10M212.93 161.21v6.10M209.88 161.21l6.10 6.10M209.88 167.31l6.10 -6.10M215.38 162.24V162.96M213.38 162.24h4.00M213.38 162.96h4.00M212.33 162.60h6.10M215.38 159.55v6.10M212.33 159.55l6.10 6.10M212.33 165.65l6.10 -6.10M217.79 162.80V163.53M215.79 162.80h4.00M215.79 163.53h4.00M214.74 163.17h6.10M217.79 160.12v6.10M214.74 160.12l6.10 6.10M214.74 166.22l6.10 -6.10M222.53 161.66V162.40M220.53 161.66h4.00M220.53 162.40h4.00M219.48 162.03h6.10M222.53 158.98v6.10M219.48 158.98l6.10 6.10M219.48 165.08l6.10 -6.10M224.85 159.84V160.58M222.85 159.84h4.00M222.85 160.58h4.00M221.80 160.21h6.10M224.85 157.16v6.10M221.80 157.16l6.10 6.10M221.80 163.26l6.10 -6.10M227.15 160.24V160.99M225.15 160.24h4.00M225.15 160.99h4.00M224.10 160.62h6.10M227.15 157.57v6.10M224.10 157.57l6.10 6.10M224.10 163.67l6.10 -6.10M229.42 156.45V157.21M227.42 156.45h4.00M227.42 157.21h4.00M226.37 156.83h6.10M229.42 153.78v6.10M226.37 153.78l6.10 6.10M226.37 159.88l6.10 -6.10M231.66 156.20V156.97M229.66 156.20h4.00M229.66 156.97h4.00M228.61 156.58h6.10M231.66 153.53v6.10M228.61 153.53l6.10 6.10M228.61 159.63l6.10 -6.10M233.88 156.80V157.57M231.88 156.80h4.00M231.88 157.57h4.00M230.83 157.19h6.10M233.88 154.14v6.10M230.83 154.14l6.10 6.10M230.83 160.24l6.10 -6.10M236.07 154.08V154.86M234.07 154.08h4.00M234.07 154.86h4.00M233.02 154.47h6.10M236.07 151.42v6.10M233.02 151.42l6.10 6.10M233.02 157.52l6.10 -6.10M240.39 150.01V150.79M238.39 150.01h4.00M238.39 150.79h4.00M237.34 150.40h6.10M240.39 147.35v6.10M237.34 147.35l6.10 6.10M237.34 153.45l6.10 -6.10M242.51 153.14V153.93M240.51 153.14h4.00M240.51 153.93h4.00M239.46 153.53h6.10M242.51 150.48v6.10M239.46 150.48l6.10 6.10M239.46 156.58l6.10 -6.10M244.61 152.61V153.41M242.61 152.61h4.00M242.61 153.41h4.00M241.56 153.01h6.10M244.61 149.96v6.10M241.56 149.96l6.10 6.10M241.56 156.06l6.10 -6.10M246.69 152.09V152.90M244.69 152.09h4.00M244.69 152.90h4.00M243.64 152.50h6.10M246.69 149.45v6.10M243.64 149.45l6.10 6.10M243.64 155.55l6.10 -6.10M248.75 150.20V151.01M246.75 150.20h4.00M246.75 151.01h4.00M245.70 150.60h6.10M248.75 147.55v6.10M245.70 147.55l6.10 6.10M245.70 153.65l6.10 -6.10M250.80 147.52V148.34M248.80 147.52h4.00M248.80 148.34h4.00M247.75 147.93h6.10M250.80 144.88v6.10M247.75 144.88l6.10 6.10M247.75 150.98l6.10 -6.10M252.82 146.87V147.69M250.82 146.87h4.00M250.82 147.69h4.00M249.77 147.28h6.10M252.82 144.23v6.10M249.77 144.23l6.10 6.10M249.77 150.33l6.10 -6.10M256.81 147.48V148.32M254.81 147.48h4.00M254.81 148.32h4.00M253.76 147.90h6.10M256.81 144.85v6.10M253.76 144.85l6.10 6.10M253.76 150.95l6.10 -6.10M258.77 149.12V149.96M256.77 149.12h4.00M256.77 149.96h4.00M255.72 149.54h6.10M258.77 146.49v6.10M255.72 146.49l6.10 6.10M255.72 152.59l6.10 -6.10M260.72 146.98V147.83M258.72 146.98h4.00M258.72 147.83h4.00M257.67 147.41h6.10M260.72 144.36v6.10M257.67 144.36l6.10 6.10M257.67 150.46l6.10 -6.10M262.66 142.65V143.50M260.66 142.65h4.00M260.66 143.50h4.00M259.61 143.07h6.10M262.66 140.02v6.10M259.61 140.02l6.10 6.10M259.61 146.12l6.10 -6.10M266.48 145.71V146.58M264.48 145.71h4.00M264.48 146.58h4.00M263.43 146.15h6.10M266.48 143.10v6.10M263.43 143.10l6.10 6.10M263.43 149.20l6.10 -6.10M268.36 144.38V145.25M266.36 144.38h4.00M266.36 145.25h4.00M265.31 144.81h6.10M268.36 141.76v6.10M265.31 141.76l6.10 6.10M265.31 147.86l6.10 -6.10M272.09 146.41V147.29M270.09 146.41h4.00M270.09 147.29h4.00M269.04 146.85h6.10M272.09 143.80v6.10M269.04 143.80l6.10 6.10M269.04 149.90l6.10 -6.10M273.93 141.87V142.76M271.93 141.87h4.00M271.93 142.76h4.00M270.88 142.31h6.10M273.93 139.26v6.10M270.88 139.26l6.10 6.10M270.88 145.36l6.10 -6.10M275.76 141.77V142.67M273.76 141.77h4.00M273.76 142.67h4.00M272.71 142.22h6.10M275.76 139.17v6.10M272.71 139.17l6.10 6.10M272.71 145.27l6.10 -6.10M277.57 141.24V142.14M275.57 141.24h4.00M275.57 142.14h4.00M274.52 141.69h6.10M277.57 138.64v6.10M274.52 138.64l6.10 6.10M274.52 144.74l6.10 -6.10M279.37 140.92V141.83M277.37 140.92h4.00M277.37 141.83h4.00M276.32 141.37h6.10M279.37 138.32v6.10M276.32 138.32l6.10 6.10M276.32 144.42l6.10 -6.10M281.16 139.69V140.60M279.16 139.69h4.00M279.16 140.60h4.00M278.11 140.15h6.10M281.16 137.10v6.10M278.11 137.10l6.10 6.10M278.11 143.20l6.10 -6.10M282.93 137.67V138.59M280.93 137.67h4.00M280.93 138.59h4.00M279.88 138.13h6.10M282.93 135.08v6.10M279.88 135.08l6.10 6.10M279.88 141.18l6.10 -6.10M286.44 135.82V136.75M284.44 135.82h4.00M284.44 136.75h4.00M283.39 136.28h6.10M286.44 133.23v6.10M283.39 133.23l6.10 6.10M283.39 139.33l6.10 -6.10M288.18 137.77V138.70M286.18 137.77h4.00M286.18 138.70h4.00M285.13 138.24h6.10M288.18 135.19v6.10M285.13 135.19l6.10 6.10M285.13 141.29l6.10 -6.10M289.91 134.37V135.32M287.91 134.37h4.00M287.91 135.32h4.00M286.86 134.85h6.10M289.91 131.80v6.10M286.86 131.80l6.10 6.10M286.86 137.90l6.10 -6.10M291.62 134.37V135.32M289.62 134.37h4.00M289.62 135.32h4.00M288.57 134.85h6.10M291.62 131.80v6.10M288.57 131.80l6.10 6.10M288.57 137.90l6.10 -6.10M293.32 134.41V135.36M291.32 134.41h4.00M291.32 135.36h4.00M290.27 134.89h6.10M293.32 131.84v6.10M290.27 131.84l6.10 6.10M290.27 137.94l6.10 -6.10M295.01 133.11V134.07M293.01 133.11h4.00M293.01 134.07h4.00M291.96 133.59h6.10M295.01 130.54v6.10M291.96 130.54l6.10 6.10M291.96 136.64l6.10 -6.10M296.69 133.30V134.26M294.69 133.30h4.00M294.69 134.26h4.00M293.64 133.78h6.10M296.69 130.73v6.10M293.64 130.73l6.10 6.10M293.64 136.83l6.10 -6.10M300.02 130.67V131.65M298.02 130.67h4.00M298.02 131.65h4.00M296.97 131.16h6.10M300.02 128.11v6.10M296.97 128.11l6.10 6.10M296.97 134.21l6.10 -6.10M301.67 132.20V133.19M299.67 132.20h4.00M299.67 133.19h4.00M298.62 132.69h6.10M301.67 129.64v6.10M298.62 129.64l6.10 6.10M298.62 135.74l6.10 -6.10M303.31 133.20V134.19M301.31 133.20h4.00M301.31 134.19h4.00M300.26 133.69h6.10M303.31 130.64v6.10M300.26 130.64l6.10 6.10M300.26 136.74l6.10 -6.10M304.94 132.18V133.18M302.94 132.18h4.00M302.94 133.18h4.00M301.89 132.68h6.10M304.94 129.63v6.10M301.89 129.63l6.10 6.10M301.89 135.73l6.10 -6.10M306.56 128.71V129.71M304.56 128.71h4.00M304.56 129.71h4.00M303.51 129.21h6.10M306.56 126.16v6.10M303.51 126.16l6.10 6.10M303.51 132.26l6.10 -6.10M308.16 131.85V132.86M306.16 131.85h4.00M306.16 132.86h4.00M305.11 132.36h6.10M308.16 129.31v6.10M305.11 129.31l6.10 6.10M305.11 135.41l6.10 -6.10M309.76 129.10V130.11M307.76 129.10h4.00M307.76 130.11h4.00M306.71 129.61h6.10M309.76 126.56v6.10M306.71 126.56l6.10 6.10M306.71 132.66l6.10 -6.10M312.93 123.99V125.01M310.93 123.99h4.00M310.93 125.01h4.00M309.88 124.50h6.10M312.93 121.45v6.10M309.88 121.45l6.10 6.10M309.88 127.55l6.10 -6.10M314.51 128.46V129.49M312.51 128.46h4.00M312.51 129.49h4.00M311.46 128.97h6.10M314.51 125.92v6.10M311.46 125.92l6.10 6.10M311.46 132.02l6.10 -6.10M316.07 127.88V128.92M314.07 127.88h4.00M314.07 128.92h4.00M313.02 128.40h6.10M316.07 125.35v6.10M313.02 125.35l6.10 6.10M313.02 131.45l6.10 -6.10M317.63 124.34V125.38M315.63 124.34h4.00M315.63 125.38h4.00M314.58 124.86h6.10M317.63 121.81v6.10M314.58 121.81l6.10 6.10M314.58 127.91l6.10 -6.10M320.71 124.38V125.44M318.71 124.38h4.00M318.71 125.44h4.00M317.66 124.91h6.10M320.71 121.86v6.10M317.66 121.86l6.10 6.10M317.66 127.96l6.10 -6.10M322.24 126.21V127.27M320.24 126.21h4.00M320.24 127.27h4.00M319.19 126.74h6.10M322.24 123.69v6.10M319.19 123.69l6.10 6.10M319.19 129.79l6.10 -6.10M325.27 121.55V122.63M323.27 121.55h4.00M323.27 122.63h4.00M322.22 122.09h6.10M325.27 119.04v6.10M322.22 119.04l6.10 6.10M322.22 125.14l6.10 -6.10M326.78 123.68V124.77M324.78 123.68h4.00M324.78 124.77h4.00M323.73 124.22h6.10M326.78 121.17v6.10M323.73 121.17l6.10 6.10M323.73 127.27l6.10 -6.10M328.28 122.91V124.00M326.28 122.91h4.00M326.28 124.00h4.00M325.23 123.45h6.10M328.28 120.40v6.10M325.23 120.40l6.10 6.10M325.23 126.50l6.10 -6.10M329.77 120.97V122.07M327.77 120.97h4.00M327.77 122.07h4.00M326.72 121.52h6.10M329.77 118.47v6.10M326.72 118.47l6.10 6.10M326.72 124.57l6.10 -6.10M331.25 119.70V120.80M329.25 119.70h4.00M329.25 120.80h4.00M328.20 120.25h6.10M331.25 117.20v6.10M328.20 117.20l6.10 6.10M328.20 123.30l6.10 -6.10M332.73 121.34V122.44M330.73 121.34h4.00M330.73 122.44h4.00M329.68 121.89h6.10M332.73 118.84v6.10M329.68 118.84l6.10 6.10M329.68 124.94l6.10 -6.10M334.19 121.43V122.54M332.19 121.43h4.00M332.19 122.54h4.00M331.14 121.99h6.10M334.19 118.94v6.10M331.14 118.94l6.10 6.10M331.14 125.04l6.10 -6.10M337.11 119.93V121.06M335.11 119.93h4.00M335.11 121.06h4.00M334.06 120.49h6.10M337.11 117.44v6.10M334.06 117.44l6.10 6.10M334.06 123.54l6.10 -6.10M338.55 116.97V118.10M336.55 116.97h4.00M336.55 118.10h4.00M335.50 117.54h6.10M338.55 114.49v6.10M335.50 114.49l6.10 6.10M335.50 120.59l6.10 -6.10M339.99 118.96V120.09M337.99 118.96h4.00M337.99 120.09h4.00M336.94 119.53h6.10M339.99 116.48v6.10M336.94 116.48l6.10 6.10M336.94 122.58l6.10 -6.10M341.43 117.39V118.53M339.43 117.39h4.00M339.43 118.53h4.00M338.38 117.96h6.10M341.43 114.91v6.10M338.38 114.91l6.10 6.10M338.38 121.01l6.10 -6.10M342.85 118.07V119.22M340.85 118.07h4.00M340.85 119.22h4.00M339.80 118.65h6.10M342.85 115.60v6.10M339.80 115.60l6.10 6.10M339.80 121.70l6.10 -6.10M344.27 118.47V119.62M342.27 118.47h4.00M342.27 119.62h4.00M341.22 119.04h6.10M344.27 115.99v6.10M341.22 115.99l6.10 6.10M341.22 122.09l6.10 -6.10M345.69 118.30V119.46M343.69 118.30h4.00M343.69 119.46h4.00M342.64 118.88h6.10M345.69 115.83v6.10M342.64 115.83l6.10 6.10M342.64 121.93l6.10 -6.10M349.89 114.50V115.68M347.89 114.50h4.00M347.89 115.68h4.00M346.84 115.09h6.10M349.89 112.04v6.10M346.84 112.04l6.10 6.10M346.84 118.14l6.10 -6.10M351.28 113.89V115.08M349.28 113.89h4.00M349.28 115.08h4.00M348.23 114.48h6.10M351.28 111.43v6.10M348.23 111.43l6.10 6.10M348.23 117.53l6.10 -6.10M352.66 115.99V117.18M350.66 115.99h4.00M350.66 117.18h4.00M349.61 116.58h6.10M352.66 113.53v6.10M349.61 113.53l6.10 6.10M349.61 119.63l6.10 -6.10M354.04 114.26V115.45M352.04 114.26h4.00M352.04 115.45h4.00M350.99 114.86h6.10M354.04 111.81v6.10M350.99 111.81l6.10 6.10M350.99 117.91l6.10 -6.10M355.41 115.32V116.52M353.41 115.32h4.00M353.41 116.52h4.00M352.36 115.92h6.10M355.41 112.87v6.10M352.36 112.87l6.10 6.10M352.36 118.97l6.10 -6.10M356.77 112.77V113.97M354.77 112.77h4.00M354.77 113.97h4.00M353.72 113.37h6.10M356.77 110.32v6.10M353.72 110.32l6.10 6.10M353.72 116.42l6.10 -6.10M359.48 115.26V116.48M357.48 115.26h4.00M357.48 116.48h4.00M356.43 115.87h6.10M359.48 112.82v6.10M356.43 112.82l6.10 6.10M356.43 118.92l6.10 -6.10M360.83 112.47V113.69M358.83 112.47h4.00M358.83 113.69h4.00M357.78 113.08h6.10M360.83 110.03v6.10M357.78 110.03l6.10 6.10M357.78 116.13l6.10 -6.10M362.17 111.25V112.48M360.17 111.25h4.00M360.17 112.48h4.00M359.12 111.87h6.10M362.17 108.82v6.10M359.12 108.82l6.10 6.10M359.12 114.92l6.10 -6.10M363.51 112.61V113.85M361.51 112.61h4.00M361.51 113.85h4.00M360.46 113.23h6.10M363.51 110.18v6.10M360.46 110.18l6.10 6.10M360.46 116.28l6.10 -6.10M366.16 109.68V110.93M364.16 109.68h4.00M364.16 110.93h4.00M363.11 110.30h6.10M366.16 107.25v6.10M363.11 107.25l6.10 6.10M363.11 113.35l6.10 -6.10M367.48 111.96V113.22M365.48 111.96h4.00M365.48 113.22h4.00M364.43 112.59h6.10M367.48 109.54v6.10M364.43 109.54l6.10 6.10M364.43 115.64l6.10 -6.10M370.11 110.54V111.81M368.11 110.54h4.00M368.11 111.81h4.00M367.06 111.17h6.10M370.11 108.12v6.10M367.06 108.12l6.10 6.10M367.06 114.22l6.10 -6.10M371.41 109.00V110.28M369.41 109.00h4.00M369.41 110.28h4.00M368.36 109.64h6.10M371.41 106.59v6.10M368.36 106.59l6.10 6.10M368.36 112.69l6.10 -6.10M372.71 108.99V110.27M370.71 108.99h4.00M370.71 110.27h4.00M369.66 109.63h6.10M372.71 106.58v6.10M369.66 106.58l6.10 6.10M369.66 112.68l6.10 -6.10M374.01 108.07V109.35M372.01 108.07h4.00M372.01 109.35h4.00M370.96 108.71h6.10M374.01 105.66v6.10M370.96 105.66l6.10 6.10M370.96 111.76l6.10 -6.10M375.30 105.85V107.14M373.30 105.85h4.00M373.30 107.14h4.00M372.25 106.49h6.10M375.30 103.44v6.10M372.25 103.44l6.10 6.10M372.25 109.54l6.10 -6.10M376.58 106.68V107.98M374.58 106.68h4.00M374.58 107.98h4.00M373.53 107.33h6.10M376.58 104.28v6.10M373.53 104.28l6.10 6.10M373.53 110.38l6.10 -6.10M377.86 106.14V107.45M375.86 106.14h4.00M375.86 107.45h4.00M374.81 106.79h6.10M377.86 103.74v6.10M374.81 103.74l6.10 6.10M374.81 109.84l6.10 -6.10M380.41 107.28V108.59M378.41 107.28h4.00M378.41 108.59h4.00M377.36 107.93h6.10M380.41 104.88v6.10M377.36 104.88l6.10 6.10M377.36 110.98l6.10 -6.10M381.68 106.74V108.06M379.68 106.74h4.00M379.68 108.06h4.00M378.63 107.40h6.10M381.68 104.35v6.10M378.63 104.35l6.10 6.10M378.63 110.45l6.10 -6.10M382.94 103.95V105.28M380.94 103.95h4.00M380.94 105.28h4.00M379.89 104.62h6.10M382.94 101.57v6.10M379.89 101.57l6.10 6.10M379.89 107.67l6.10 -6.10M384.19 103.49V104.83M382.19 103.49h4.00M382.19 104.83h4.00M381.14 104.16h6.10M384.19 101.11v6.10M381.14 101.11l6.10 6.10M381.14 107.21l6.10 -6.10M385.45 104.80V106.14M383.45 104.80h4.00M383.45 106.14h4.00M382.40 105.47h6.10M385.45 102.42v6.10M382.40 102.42l6.10 6.10M382.40 108.52l6.10 -6.10M386.69 103.70V105.04M384.69 103.70h4.00M384.69 105.04h4.00M383.64 104.37h6.10M386.69 101.32v6.10M383.64 101.32l6.10 6.10M383.64 107.42l6.10 -6.10M387.94 102.91V104.26M385.94 102.91h4.00M385.94 104.26h4.00M384.89 103.59h6.10M387.94 100.54v6.10M384.89 100.54l6.10 6.10M384.89 106.64l6.10 -6.10M390.41 106.72V108.08M388.41 106.72h4.00M388.41 108.08h4.00M387.36 107.40h6.10M390.41 104.35v6.10M387.36 104.35l6.10 6.10M387.36 110.45l6.10 -6.10" stroke="#ff4500" stroke-width="0.9" fill="none"/><rect x="35.45" y="13.45" width="355.05" height="240.90" stroke="#000" stroke-width="1.15" fill="none"/><path d="M151.4 25.75H184.6M151.4 23.75v4M184.6 23.75v4M165.15 24.23L171.25 24.23L168.20 29.17ZM167.70 25.75h1.0" stroke="#0000ff" stroke-width="0.9" fill="none"/><path d="M151.4 42.75H184.6M151.4 40.75v4M184.6 40.75v4M168.20 39.70L171.25 42.75L168.20 45.80L165.15 42.75ZM167.70 42.75h1.0" stroke="#ff00ff" stroke-width="0.9" fill="none"/><path d="M151.4 59.8H184.6M151.4 57.8v4M184.6 57.8v4M165.15 59.80h6.10M168.20 56.75v6.10M165.15 56.75l6.10 6.10M165.15 62.85l6.10 -6.10" stroke="#ff4500" stroke-width="0.9" fill="none"/><g font-family="Liberation Sans, sans-serif" font-size="11.5" fill="#1c1c1c"><text x="37.25" y="269.3" text-anchor="middle" >0</text><text x="90.42" y="269.3" text-anchor="middle" >1</text><text x="143.59" y="269.3" text-anchor="middle" >2</text><text x="196.76" y="269.3" text-anchor="middle" >3</text><text x="249.93" y="269.3" text-anchor="middle" >4</text><text x="303.10" y="269.3" text-anchor="middle" >5</text><text x="356.27" y="269.3" text-anchor="middle" >6</text><text x="28.5" y="258.25" text-anchor="end" >0</text><text x="28.5" y="210.07" text-anchor="end" >1</text><text x="28.5" y="161.89" text-anchor="end" >2</text><text x="28.5" y="113.71" text-anchor="end" >3</text><text x="28.5" y="65.53" text-anchor="end" >4</text><text x="28.5" y="17.35" text-anchor="end" >5</text><text x="212.7" y="284.6" text-anchor="middle" >r [1/GeV]</text><text transform="translate(11.5,133) rotate(-90)" text-anchor="middle">V<tspan dy="2.5" font-size="9.5">C</tspan><tspan dy="-2.5">(r) [GeV]</tspan></text><text x="42.0" y="30.6">T=0, 128x32<tspan dy="-5" font-size="9.5">3</tspan></text><text x="42.0" y="47.0">T=1.5 T<tspan dy="2.5" font-size="9.5">c</tspan><tspan dy="-2.5">, 16x32</tspan><tspan dy="-5" font-size="9.5">3</tspan></text><text x="42.0" y="64.1">T=3.0 T<tspan dy="2.5" font-size="9.5">c</tspan><tspan dy="-2.5">, 8x32</tspan><tspan dy="-5" font-size="9.5">3</tspan></text></g></svg>
</body></html>
